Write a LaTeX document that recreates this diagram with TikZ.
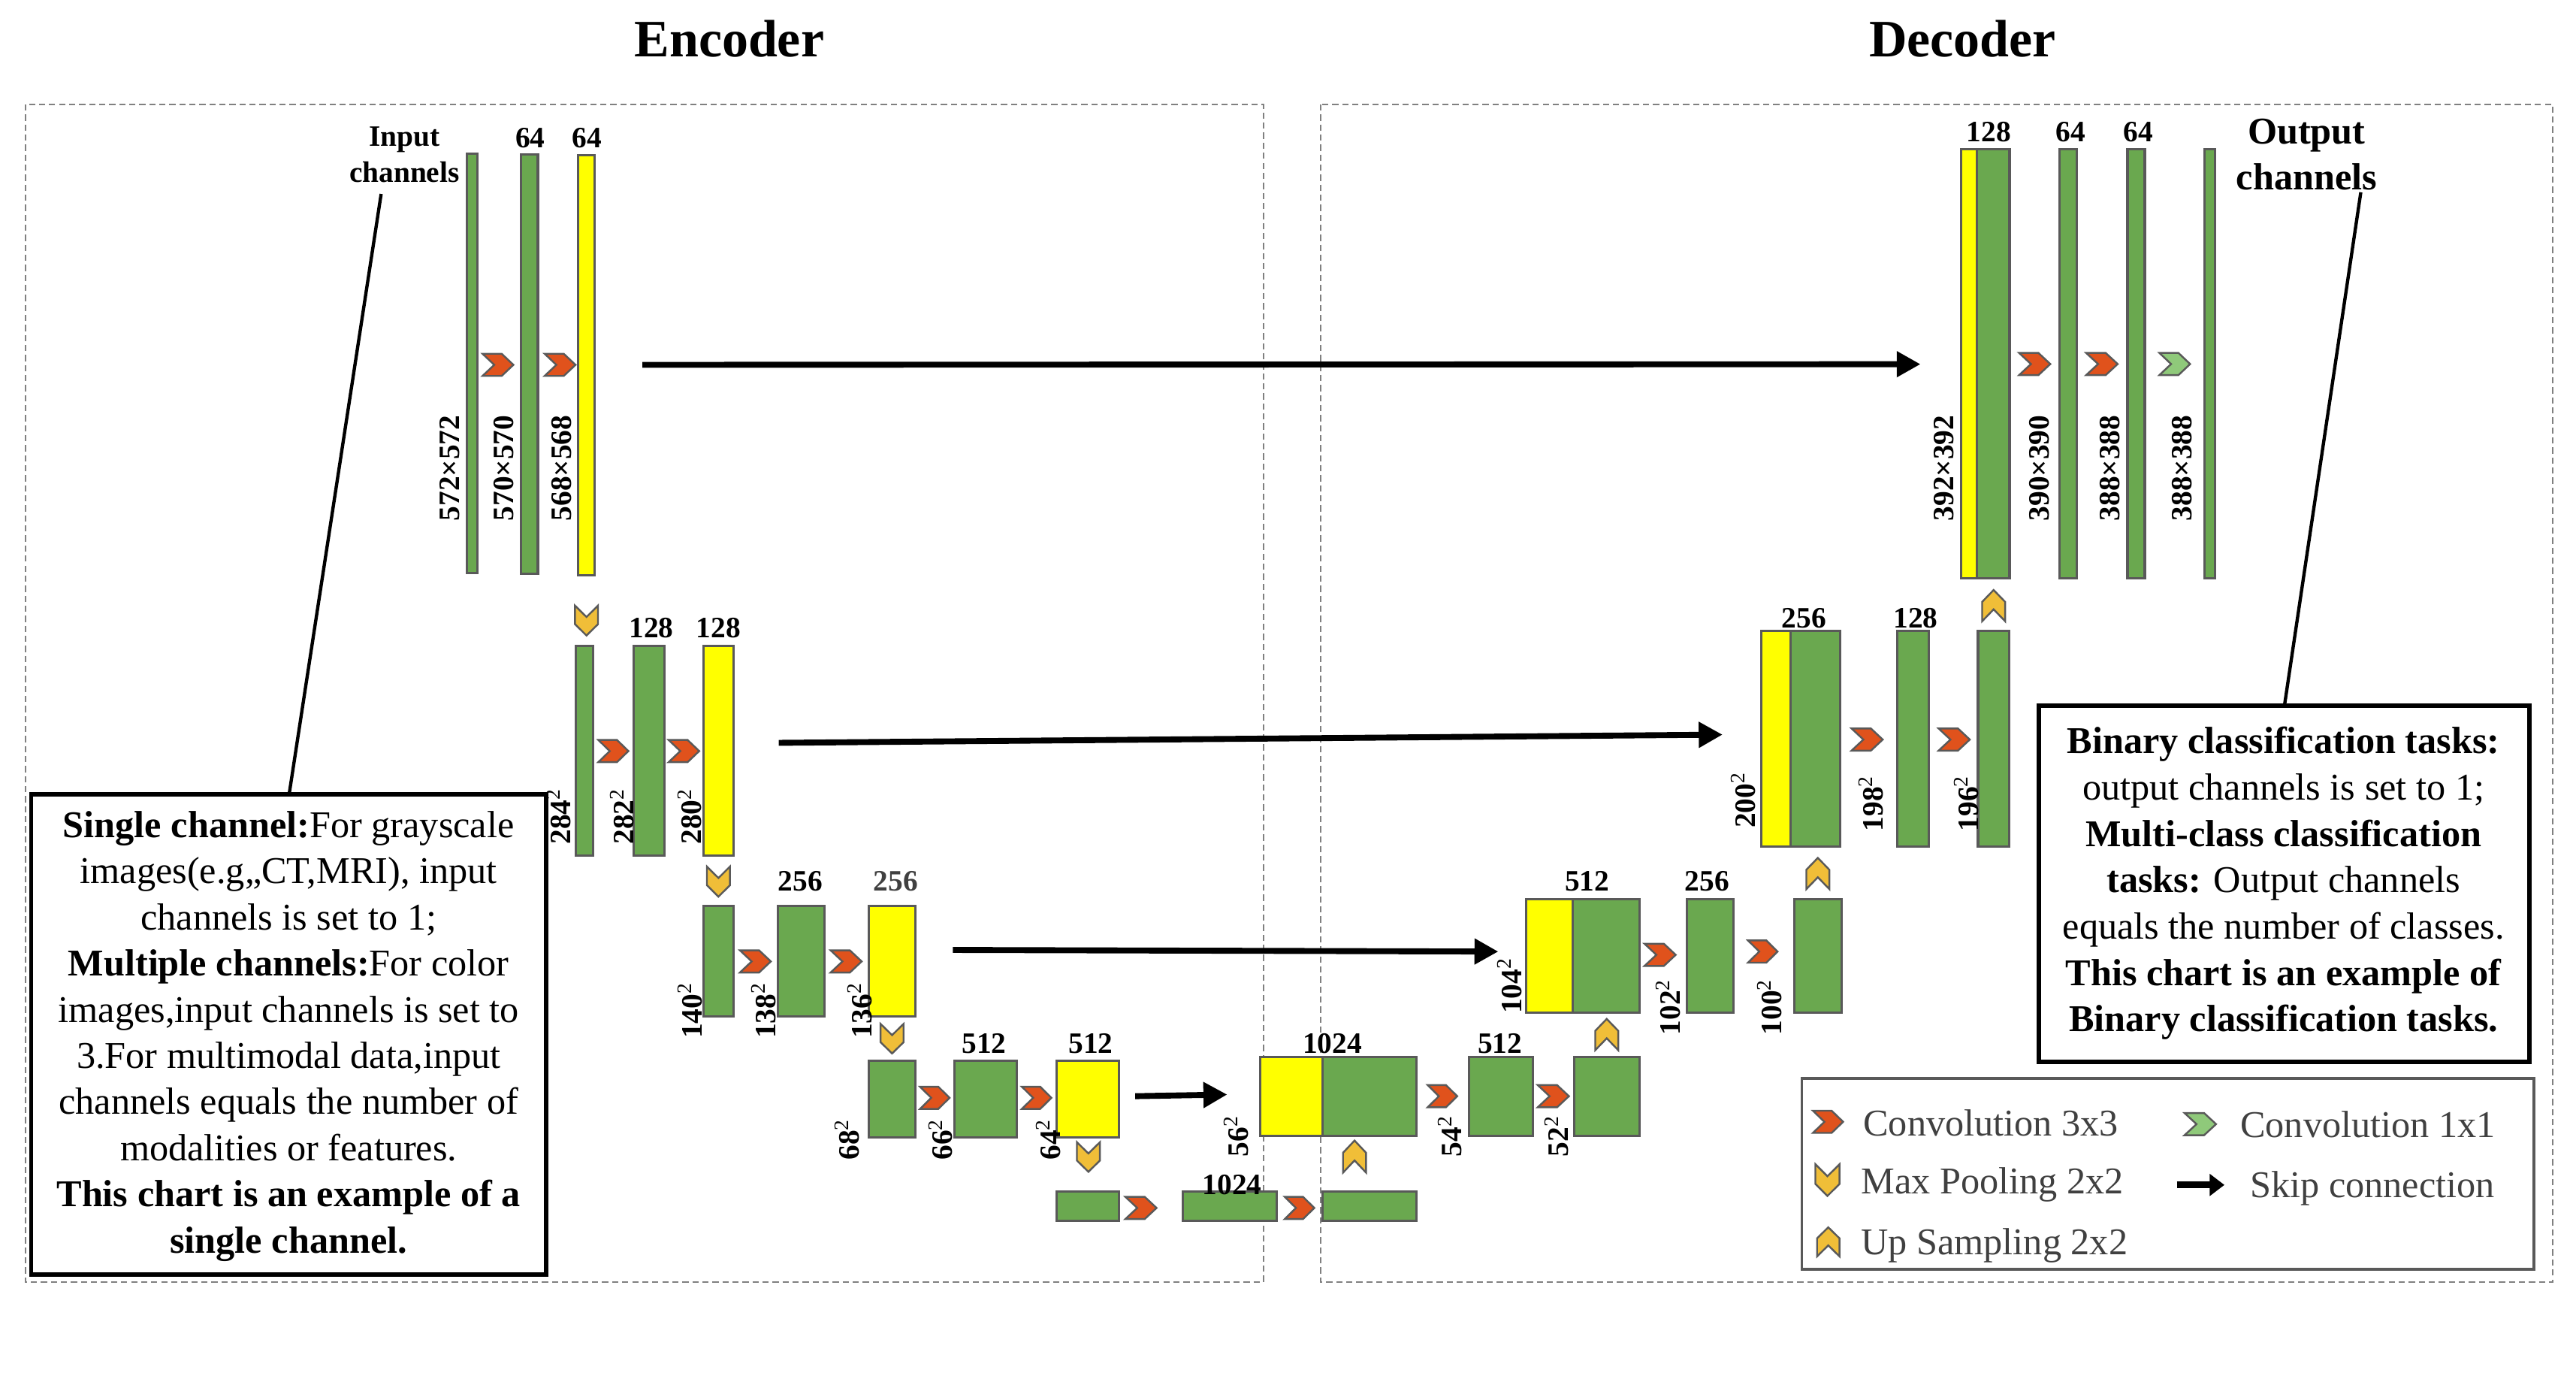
\documentclass[tikz,border=0pt]{standalone}
\usepackage{fontspec}
\setmainfont{Liberation Serif}
\usetikzlibrary{arrows.meta}
\definecolor{bgreen}{HTML}{6AA84F}
\definecolor{byel}{HTML}{FFFF00}
\definecolor{bord}{HTML}{595959}
\definecolor{convc}{HTML}{E0521C}
\definecolor{poolc}{HTML}{F0BE38}
\definecolor{onec}{HTML}{8FC97A}
\definecolor{dashc}{HTML}{808080}
\definecolor{legt}{HTML}{404040}
\tikzset{
  gbar/.style={draw=bord, line width=1.4pt, fill=bgreen, inner sep=0pt, outer sep=0pt},
  ybar/.style={gbar, fill=byel},
  convs/.style={draw=bord, line width=1.1pt, fill=convc, line join=miter},
  pools/.style={convs, fill=poolc},
  ones/.style={convs, fill=onec},
  skiparrow/.style={line width=3.6pt, -{Triangle[length=14.5pt,width=15pt]}},
  numlab/.style={font=\fontsize{18}{18}\selectfont\bfseries, inner sep=0pt},
  dimlab/.style={numlab, rotate=90, anchor=west},
  guide/.style={line width=2pt},
  dashbox/.style={draw=dashc, line width=0.8pt, dash pattern=on 3.8pt off 2.3pt},
  legtext/.style={font=\fontsize{23}{23}\selectfont, text=legt, inner sep=0pt, anchor=base west},
}
\newcommand\ublock[6]{\node[#6, minimum width={(#3-#2)*1pt}, minimum height={(#5-#4)*1pt}] (#1) at ({(#2+#3)/2},{(#4+#5)/2}) {};}
\newcommand\convchev[4]{\draw[#4] (#1,{#3-6.75}) -- ({#2-0.38*(#2-#1)},{#3-6.75}) -- (#2,#3) -- ({#2-0.38*(#2-#1)},{#3+6.75}) -- (#1,{#3+6.75}) -- ({#1+0.38*(#2-#1)},#3) -- cycle;}
\newcommand\poolchev[3]{\draw[pools] ({#1-7},#2) -- (#1,{#2+0.38*(#3-#2)}) -- ({#1+7},#2) -- ({#1+7},{#3-0.38*(#3-#2)}) -- (#1,#3) -- ({#1-7},{#3-0.38*(#3-#2)}) -- cycle;}
\newcommand\upchev[3]{\draw[pools] ({#1-7},#3) -- (#1,{#3-0.38*(#3-#2)}) -- ({#1+7},#3) -- ({#1+7},{#2+0.38*(#3-#2)}) -- (#1,#2) -- ({#1-7},{#2+0.38*(#3-#2)}) -- cycle;}
\newcommand\sqlab[1]{#1\textsuperscript{\mdseries 2}}
\begin{document}
\begin{tikzpicture}[x=1pt,y=-1pt]
\useasboundingbox (0,0) rectangle (1568,835.4);
\fill[white] (0,0) rectangle (1568,835.4);

% titles
\node[font=\fontsize{32}{32}\selectfont\bfseries, anchor=base, inner sep=0pt] (enctitle) at (443.9,34.7) {Encoder};
\node[font=\fontsize{32}{32}\selectfont\bfseries, anchor=base, inner sep=0pt] (dectitle) at (1194.6,34.7) {Decoder};

% dashed frames
\draw[dashbox] (15.5,63.5) rectangle (769,780);
\draw[dashbox] (804,63.5) rectangle (1553.8,780);

% ---------------- Encoder bars
\ublock{e1a}{284}{290.8}{93.6}{348.5}{gbar}
\ublock{e1b}{317.3}{327.4}{93.9}{349}{gbar}
\ublock{e1c}{352}{362}{94.4}{350}{ybar}
\ublock{e2a}{350.7}{361.2}{393}{520.6}{gbar}
\ublock{e2b}{385.9}{404.4}{393}{520.6}{gbar}
\ublock{e2c}{428.2}{446.6}{393}{520.6}{ybar}
\ublock{e3a}{428.2}{446.6}{551.4}{618.6}{gbar}
\ublock{e3b}{473.3}{501.7}{551.4}{618.6}{gbar}
\ublock{e3c}{528.7}{557.2}{551.4}{618.6}{ybar}
\ublock{e4a}{529}{557}{645.6}{692}{gbar}
\ublock{e4b}{581}{619}{645.6}{692}{gbar}
\ublock{e4c}{643}{681}{645.6}{692}{ybar}
\ublock{m1}{643}{681}{725}{743}{gbar}
\ublock{m2}{720}{777}{725}{743}{gbar}
\ublock{m3}{805}{862}{725}{743}{gbar}
% ---------------- Decoder bars
\ublock{d4y}{767}{805}{643}{691}{ybar}
\ublock{d4a}{805}{862}{643}{691}{gbar}
\ublock{d4b}{894}{933}{643}{691}{gbar}
\ublock{d4c}{958}{998}{643}{691}{gbar}
\ublock{d3y}{929}{957.5}{547}{616}{ybar}
\ublock{d3a}{957.5}{998}{547}{616}{gbar}
\ublock{d3b}{1027}{1055}{547}{616}{gbar}
\ublock{d3c}{1092}{1121}{547}{616}{gbar}
\ublock{d2y}{1072}{1090}{384}{515}{ybar}
\ublock{d2a}{1090}{1120}{384}{515}{gbar}
\ublock{d2b}{1155}{1174}{384}{515}{gbar}
\ublock{d2c}{1204}{1223}{384}{515}{gbar}
\ublock{d1y}{1193.6}{1203.3}{90.8}{352}{ybar}
\ublock{d1a}{1203.3}{1223.2}{90.8}{352}{gbar}
\ublock{d1b}{1253.5}{1264}{90.8}{352}{gbar}
\ublock{d1c}{1295}{1305.5}{90.8}{352}{gbar}
\ublock{d1o}{1342}{1348.3}{90.8}{352}{gbar}

% ---------------- convolution chevrons
\convchev{293.7}{312.5}{222}{convs}
\convchev{331.5}{350.3}{222}{convs}
\convchev{364.2}{382.5}{457}{convs}
\convchev{407}{425.6}{457}{convs}
\convchev{450.4}{469.2}{585}{convs}
\convchev{505.6}{524.5}{585}{convs}
\convchev{560}{578}{668}{convs}
\convchev{622}{640}{668}{convs}
\convchev{685}{704}{735}{convs}
\convchev{782}{800}{735}{convs}
\convchev{869}{887}{667}{convs}
\convchev{936}{955}{667}{convs}
\convchev{1001}{1020}{581}{convs}
\convchev{1064}{1082}{579}{convs}
\convchev{1127}{1146}{450}{convs}
\convchev{1180}{1199}{450}{convs}
\convchev{1229}{1248}{221.5}{convs}
\convchev{1269.8}{1289}{221.5}{convs}
\convchev{1314.4}{1333.1}{221.5}{ones}

% ---------------- pooling / up-sampling chevrons
\poolchev{357}{368.5}{386.7}
\poolchev{437.3}{527.3}{545.6}
\poolchev{543}{623}{641}
\poolchev{662.5}{695}{713}
\upchev{824.5}{694}{713.5}
\upchev{978}{620}{639}
\upchev{1106.5}{522}{541}
\upchev{1213.5}{359}{378}

% ---------------- skip connections
\coordinate (s1a) at (391,222);   \coordinate (s1b) at (1169,221.6);
\coordinate (s2a) at (474,452);   \coordinate (s2b) at (1048.5,447);
\coordinate (s3a) at (580,578);   \coordinate (s3b) at (912,579);
\coordinate (s4a) at (691,667);   \coordinate (s4b) at (747,666);
\draw[skiparrow] (s1a) -- (s1b);
\draw[skiparrow] (s2a) -- (s2b);
\draw[skiparrow] (s3a) -- (s3b);
\draw[skiparrow] (s4a) -- (s4b);

% ---------------- channel numbers
\node[numlab] (n1) at (322.8,84.1) {64};
\node[numlab] (n2) at (357.4,84.1) {64};
\node[numlab] (n3) at (396.5,382) {128};
\node[numlab] (n4) at (437.3,382) {128};
\node[numlab] (n5) at (487.2,536) {256};
\node[numlab, text=legt] (n6) at (545.3,536) {256};
\node[numlab] (n7) at (599,635) {512};
\node[numlab] (n8) at (664,635) {512};
\node[numlab] (n9) at (750,721) {1024};
\node[numlab] (n10) at (811,635) {1024};
\node[numlab] (n11) at (913,635) {512};
\node[numlab] (n12) at (966,536) {512};
\node[numlab] (n13) at (1039,536) {256};
\node[numlab] (n14) at (1098,376) {256};
\node[numlab] (n15) at (1166,376) {128};
\node[numlab] (n16) at (1210.6,80.3) {128};
\node[numlab] (n17) at (1260.5,80.3) {64};
\node[numlab] (n18) at (1301.6,80.3) {64};

% ---------------- size labels
\node[dimlab] (z1) at (273.7,317.2) {572×572};
\node[dimlab] (z2) at (306.7,317.2) {570×570};
\node[dimlab] (z3) at (341.8,317.2) {568×568};
\node[dimlab] (z4) at (340,514) {\sqlab{284}};
\node[dimlab] (z5) at (378.7,514) {\sqlab{282}};
\node[dimlab] (z6) at (419.8,514) {\sqlab{280}};
\node[dimlab] (z7) at (420,632) {\sqlab{140}};
\node[dimlab] (z8) at (465,632) {\sqlab{138}};
\node[dimlab] (z9) at (523.5,632) {\sqlab{136}};
\node[dimlab] (z10) at (515.5,706) {\sqlab{68}};
\node[dimlab] (z11) at (572.5,706) {\sqlab{66}};
\node[dimlab] (z12) at (638,706) {\sqlab{64}};
\node[dimlab] (z13) at (752.5,704) {\sqlab{56}};
\node[dimlab] (z14) at (882.5,704) {\sqlab{54}};
\node[dimlab] (z15) at (947.5,704) {\sqlab{52}};
\node[dimlab] (z16) at (919,617) {\sqlab{104}};
\node[dimlab] (z17) at (1015.5,630) {\sqlab{102}};
\node[dimlab] (z18) at (1077,630) {\sqlab{100}};
\node[dimlab] (z19) at (1061,504) {\sqlab{200}};
\node[dimlab] (z20) at (1139,506) {\sqlab{198}};
\node[dimlab] (z21) at (1197,506) {\sqlab{196}};
\node[dimlab] (z22) at (1183.3,317.2) {392×392};
\node[dimlab] (z23) at (1241.5,317.2) {390×390};
\node[dimlab] (z24) at (1284.5,317.2) {388×388};
\node[dimlab] (z25) at (1328.2,317.2) {388×388};

% ---------------- input / output labels and notes
\node[font=\fontsize{18}{22}\selectfont\bfseries, align=center, inner sep=0pt] (inlab) at (246.2,94) {Input\\channels};
\node[font=\fontsize{23}{27.7}\selectfont\bfseries, align=center, inner sep=0pt] (outlab) at (1404,94) {Output\\channels};

\node[draw, line width=2.6pt, minimum width=313.5pt, minimum height=292.3pt, inner sep=0pt] (lbox) at (175.75,629.45) {};
\node[font=\fontsize{23}{28.1}\selectfont, align=center, inner sep=0pt] (ltext) at (175.7,630.5) {%
\textbf{Single channel:}For grayscale\\
images(e.g,,CT,MRI), input\\
channels is set to 1;\\
\textbf{Multiple channels:}For color\\
images,input channels is set to\\
3.For multimodal data,input\\
channels equals the number of\\
modalities or features.\\
\textbf{This chart is an example of a}\\
\textbf{single channel.}};

\node[draw, line width=2.6pt, minimum width=298.5pt, minimum height=216.5pt, inner sep=0pt] (rbox) at (1390.25,537.75) {};
\node[font=\fontsize{23}{28.2}\selectfont, align=center, inner sep=0pt] (rtext) at (1390,537.5) {%
\textbf{Binary classification tasks:}\\
output channels is set to 1;\\
\textbf{Multi-class classification}\\
\textbf{tasks:} Output channels\\
equals the number of classes.\\
\textbf{This chart is an example of}\\
\textbf{Binary classification tasks.}};

\coordinate (inFoot) at (232,118);
\coordinate (lboxTop) at (176,483.3);
\coordinate (outFoot) at (1437,117);
\coordinate (rboxTop) at (1390.5,429.5);
\draw[guide] (inFoot) -- (lboxTop);
\draw[guide] (outFoot) -- (rboxTop);

% ---------------- legend
\node[draw=bord, line width=1.6pt, minimum width=445.5pt, minimum height=116.2pt, inner sep=0pt] (legend) at (1319.55,714.2) {};
\convchev{1103.5}{1121.9}{682.6}{convs}
\convchev{1329.7}{1348.9}{684}{ones}
\draw[pools] (1105,708.4) -- (1112.35,715.7) -- (1119.7,708.4) -- (1119.7,720.4) -- (1112.35,727.7) -- (1105,720.4) -- cycle;
\draw[pools] (1106,764.5) -- (1112.85,757.8) -- (1119.7,764.5) -- (1119.7,753.5) -- (1112.85,746.8) -- (1106,753.5) -- cycle;
\coordinate (lgA) at (1325,721);
\coordinate (lgB) at (1354,721);
\draw[line width=4pt, -{Triangle[length=9pt,width=13pt]}] (lgA) -- (lgB);
\node[legtext] (lg1) at (1134,691.2) {Convolution 3x3};
\node[legtext] (lg2) at (1132.6,726.3) {Max Pooling 2x2};
\node[legtext] (lg3) at (1132.6,763.6) {Up Sampling 2x2};
\node[legtext] (lg4) at (1363.5,692) {Convolution 1x1};
\node[legtext] (lg5) at (1369.5,728.5) {Skip connection};
\end{tikzpicture}
\end{document}
